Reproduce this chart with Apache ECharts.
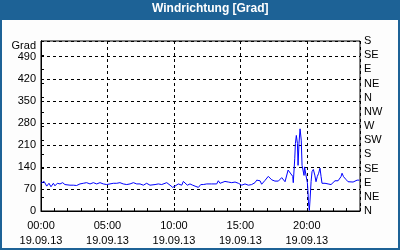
<!DOCTYPE html>
<html><head><meta charset="utf-8">
<script src="https://cdn.jsdelivr.net/npm/echarts@6/dist/echarts.min.js"></script>
<style>html,body{margin:0;padding:0;background:#fff}#c{width:400px;height:250px}</style>
</head><body><div id="c"></div>
<script>
const chartTitle = 'Windrichtung [Grad]';
const yName = 'Grad';
const dateLabel = '19.09.13';
const compassLabels = ['N','NE','E','SE','S','SW','W','NW','N','NE','E','SE','S'];
const hours = [0.0,0.23,0.43,0.6,0.75,0.93,1.05,1.23,1.43,1.63,1.8,1.93,2.18,2.43,2.68,2.93,3.18,3.43,3.69,3.94,4.19,4.44,4.69,4.94,5.07,5.19,5.44,5.7,5.94,6.19,6.45,6.7,6.95,7.2,7.45,7.7,7.95,8.2,
8.33,8.58,8.83,9.08,9.46,9.71,9.91,10.08,10.33,10.46,10.59,10.71,10.84,11.01,11.21,11.41,11.59,11.84,11.91,12.02,12.21,12.47,12.84,13.22,13.34,13.47,13.6,13.84,14.09,14.35,14.6,14.85,14.97,15.1,15.35,15.6,15.85,16.1,16.23,16.48,
16.6,16.85,17.1,17.36,17.6,17.86,18.11,18.36,18.59,18.74,18.94,18.98,19.09,19.14,19.21,19.29,19.34,19.41,19.49,19.54,19.58,19.64,19.71,19.79,19.83,19.89,19.96,20.04,20.09,20.12,20.19,20.24,20.32,20.39,20.49,20.6,20.69,20.79,20.89,20.99,21.07,21.14,21.37,21.6,21.82,21.97,22.12,22.35,22.5,22.57,22.65,22.76,22.95,23.1,23.25,23.48,23.63,23.78,23.95];
const windDir = [88,94,79,88,77,88,80,88,86,90,84,88,82,82,81,86,88,90,86,90,86,90,86,84,88,86,88,88,90,86,84,86,90,86,86,82,88,82,
86,84,86,84,90,82,75,79,86,90,82,94,88,82,86,82,79,75,71,84,84,86,86,86,96,88,94,94,92,90,92,88,94,82,86,82,84,90,98,96,
85,97,110,99,95,95,106,93,130,125,110,90,166,214,240,215,145,215,261,255,225,145,145,113,140,135,108,90,60,29,2,35,93,125,132,114,93,110,120,136,110,88,88,86,84,90,96,96,100,109,120,109,100,93,90,92,96,98,98];

const font = 'Liberation Sans';
const chart = echarts.init(document.getElementById('c'), null, {renderer:'canvas'});
const pad = v => (v < 10 ? '0' : '') + v;
chart.setOption({
  animation: false,
  backgroundColor: '#fdfdfd',
  graphic: [
    {type:'rect', z:-10, shape:{x:0,y:0,width:400,height:250}, style:{fill:'#1d6296'}},
    {type:'rect', z:-9, shape:{x:2,y:20,width:396,height:228}, style:{fill:'#fdfdfd'}}
  ],
  title: {text: chartTitle, left: 152, top: 3, padding: 0,
    textStyle:{color:'#fff', fontFamily: font, fontSize: 12, fontWeight:'bold'}},
  grid: {left:41, right:40, top:41, bottom:39, show:true, backgroundColor:'#fff', borderColor:'#000', borderWidth:1},
  xAxis: [
    {type:'value', min:0, max:24, interval:1, position:'bottom',
     axisLine:{show:true, lineStyle:{color:'#000'}},
     axisTick:{show:true, inside:true, length:3, lineStyle:{color:'#000'}},
     axisLabel:{show:false}, splitLine:{show:false}},
    {type:'value', min:0, max:24, interval:5, position:'bottom',
     axisLine:{show:false}, axisTick:{show:false},
     axisLabel:{show:true, margin:7, color:'#000', fontFamily:font, fontSize:11, lineHeight:15,
       formatter: v => (v % 5 === 0 && v < 24) ? pad(v) + ':00\n' + dateLabel : ''},
     splitLine:{show:true, lineStyle:{color:'#000', type:[3,3], width:1}}}
  ],
  yAxis: [
    {type:'value', min:0, max:540, interval:70, position:'left',
     name: yName, nameLocation:'end', nameGap:-5,
     nameTextStyle:{align:'right', verticalAlign:'middle', padding:[0,5,0,0], color:'#000', fontFamily:font, fontSize:11},
     axisLine:{show:true, lineStyle:{color:'#000'}}, axisTick:{show:false},
     axisLabel:{margin:5, color:'#000', fontFamily:font, fontSize:11,
       formatter: v => (v % 70 === 0 && v <= 490) ? String(v) : ''},
     splitLine:{show:true, lineStyle:{color:'#000', type:[3,3], width:1}}},
    {type:'value', min:0, max:540, interval:45, position:'right',
     axisLine:{show:true, lineStyle:{color:'#000'}},
     axisTick:{show:true, inside:false, length:3, lineStyle:{color:'#000'}},
     axisLabel:{margin:4, color:'#000', fontFamily:font, fontSize:11,
       formatter: v => compassLabels[Math.round(v/45)] || ''},
     splitLine:{show:false}}
  ],
  series: [{
    type:'line', xAxisIndex:0, yAxisIndex:0, showSymbol:false, symbol:'none',
    lineStyle:{color:'#0000ff', width:1}, clip:true,
    data: hours.map((h,i) => [h, windDir[i]])
  }]
});
</script></body></html>
